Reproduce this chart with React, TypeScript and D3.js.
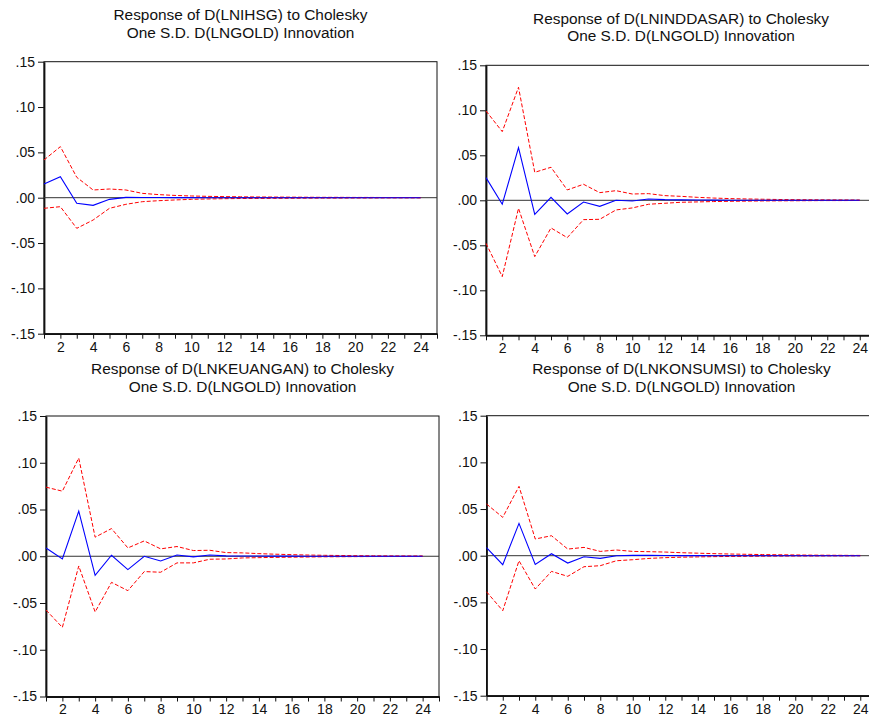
import React, { useRef, useEffect } from 'react';
import * as d3 from 'd3';

// periods 1..24 of the impulse response
const periods = d3.range(1, 25);
const yTicks = [-0.15, -0.1, -0.05, 0, 0.05, 0.1, 0.15];
const xTicks = d3.range(1, 26);
const xLabels = [2, 4, 6, 8, 10, 12, 14, 16, 18, 20, 22, 24];

const ihsgResp = [0.0151, 0.0232, -0.0062, -0.0084, -0.0018, 0.0004, 0.0003, 0.0002, 0.0001, 0.0001, 0, 0, 0, 0, 0, 0, 0, 0, 0, 0, 0, 0, 0, 0];
const ihsgUpper = [0.0416, 0.0563, 0.0225, 0.0085, 0.0096, 0.0085, 0.0048, 0.0034, 0.0025, 0.0019, 0.0015, 0.0012, 0.001, 0.0008, 0.0007, 0.0006, 0.0005, 0.0004, 0.0004, 0.0003, 0.0003, 0.0002, 0.0002, 0.0002];
const ihsgLower = [-0.0117, -0.0099, -0.0338, -0.0246, -0.0117, -0.0073, -0.0044, -0.0033, -0.0025, -0.0018, -0.0014, -0.0011, -0.0009, -0.0008, -0.0007, -0.0006, -0.0005, -0.0004, -0.0004, -0.0003, -0.0003, -0.0002, -0.0002, -0.0002];

const inddasarResp = [0.0252, -0.0044, 0.0585, -0.0156, 0.0033, -0.0152, -0.0019, -0.0067, 0.0, -0.0007, 0.0015, 0.0007, 0.0005, 0.0003, 0.0002, 0.0001, 0.0001, 0, 0, 0, 0, 0, 0, 0];
const inddasarUpper = [0.0993, 0.0763, 0.1256, 0.0311, 0.0367, 0.0115, 0.0178, 0.0085, 0.0107, 0.007, 0.0074, 0.0052, 0.0044, 0.0033, 0.0025, 0.0019, 0.0015, 0.0012, 0.0009, 0.0007, 0.0006, 0.0005, 0.0004, 0.0003];
const inddasarLower = [-0.0478, -0.0848, -0.0089, -0.0626, -0.0307, -0.0415, -0.0215, -0.0211, -0.0107, -0.0085, -0.0044, -0.0033, -0.0022, -0.0018, -0.0014, -0.0011, -0.0009, -0.0007, -0.0006, -0.0005, -0.0004, -0.0003, -0.0003, -0.0002];

const keuanganResp = [0.0089, -0.0029, 0.0482, -0.0204, 0.0011, -0.0143, 0.0, -0.005, 0.0014, -0.0007, 0.0014, 0.0004, 0.0003, 0.0002, 0.0001, 0.0001, 0, 0, 0, 0, 0, 0, 0, 0];
const keuanganUpper = [0.0739, 0.0696, 0.105, 0.0204, 0.0296, 0.0089, 0.0164, 0.0079, 0.0104, 0.0061, 0.0064, 0.0039, 0.0036, 0.0028, 0.0022, 0.0017, 0.0013, 0.001, 0.0008, 0.0006, 0.0005, 0.0004, 0.0003, 0.0003];
const keuanganLower = [-0.0575, -0.0761, -0.0104, -0.0596, -0.0279, -0.0368, -0.0164, -0.0171, -0.0071, -0.0071, -0.0032, -0.0029, -0.0018, -0.0015, -0.0012, -0.001, -0.0008, -0.0006, -0.0005, -0.0004, -0.0003, -0.0003, -0.0002, -0.0002];

const konsumsiResp = [0.0086, -0.0096, 0.0346, -0.0093, 0.0021, -0.0079, -0.0011, -0.0029, 0.0, 0.0004, 0.0004, 0.0002, 0.0001, 0.0001, 0, 0, 0, 0, 0, 0, 0, 0, 0, 0];
const konsumsiUpper = [0.0554, 0.0411, 0.0743, 0.0179, 0.0214, 0.0071, 0.0089, 0.0046, 0.0061, 0.0046, 0.0043, 0.0039, 0.0032, 0.0027, 0.0022, 0.0018, 0.0015, 0.0012, 0.001, 0.0008, 0.0006, 0.0005, 0.0004, 0.0003];
const konsumsiLower = [-0.0386, -0.0589, -0.0054, -0.0357, -0.0168, -0.0221, -0.0118, -0.0107, -0.0054, -0.0043, -0.0029, -0.0021, -0.0016, -0.0013, -0.001, -0.0008, -0.0007, -0.0005, -0.0004, -0.0003, -0.0003, -0.0002, -0.0002, -0.0001];

const titles = [
  ['Response of D(LNIHSG) to Cholesky', 'One S.D. D(LNGOLD) Innovation'],
  ['Response of D(LNINDDASAR) to Cholesky', 'One S.D. D(LNGOLD) Innovation'],
  ['Response of D(LNKEUANGAN) to Cholesky', 'One S.D. D(LNGOLD) Innovation'],
  ['Response of D(LNKONSUMSI) to Cholesky', 'One S.D. D(LNGOLD) Innovation'],
];

const series = [
  [ihsgResp, ihsgUpper, ihsgLower],
  [inddasarResp, inddasarUpper, inddasarLower],
  [keuanganResp, keuanganUpper, keuanganLower],
  [konsumsiResp, konsumsiUpper, konsumsiLower],
];

// panel boxes (plot area) and title baselines
const panels = [
  { left: 44, top: 61.7, width: 393, height: 272, t1: 20, t2: 38 },
  { left: 486, top: 65.3, width: 390, height: 270, t1: 24, t2: 41 },
  { left: 46, top: 416, width: 393, height: 280.5, t1: 374, t2: 392 },
  { left: 486.5, top: 415.7, width: 390, height: 280, t1: 374, t2: 392 },
];

const fmtY = (v: number) =>
  (v < -1e-9 ? '-' : '') + Math.abs(v).toFixed(2).replace(/^0/, '');

const App = () => {
  const ref = useRef<SVGSVGElement>(null);

  useEffect(() => {
    const svg = d3.select(ref.current);
    svg.selectAll('*').remove();
    const font = '"Liberation Sans", Arial, sans-serif';

    panels.forEach((p, i) => {
      const x = d3.scaleLinear().domain([1, 25]).range([p.left, p.left + p.width]);
      const y = d3.scaleLinear().domain([-0.15, 0.15]).range([p.top + p.height, p.top]);
      const g = svg.append('g');

      // titles
      const cx = p.left + p.width / 2;
      [p.t1, p.t2].forEach((ty, k) => {
        g.append('text')
          .attr('x', cx)
          .attr('y', ty)
          .attr('text-anchor', 'middle')
          .attr('font-family', font)
          .attr('font-size', 15.4)
          .attr('fill', '#111')
          .text(titles[i][k]);
      });

      // frame
      g.append('rect')
        .attr('x', p.left)
        .attr('y', p.top)
        .attr('width', p.width)
        .attr('height', p.height)
        .attr('fill', 'none')
        .attr('stroke', '#111')
        .attr('stroke-width', 1);

      // y axis
      const yAxis = g
        .append('g')
        .attr('transform', `translate(${p.left},0)`)
        .call(d3.axisLeft(y).tickValues(yTicks).tickSize(6).tickSizeOuter(0).tickFormat((d) => fmtY(+d)));
      yAxis.select('.domain').attr('stroke', '#111').attr('stroke-width', 1.8);
      yAxis.selectAll('.tick line').attr('stroke', '#111');
      yAxis
        .selectAll('.tick text')
        .attr('font-family', font)
        .attr('font-size', 14)
        .attr('fill', '#111')
        .attr('x', -9);

      // x axis
      const xAxis = g
        .append('g')
        .attr('transform', `translate(0,${p.top + p.height})`)
        .call(
          d3
            .axisBottom(x)
            .tickValues(xTicks)
            .tickSize(5)
            .tickSizeOuter(0)
            .tickFormat((d) => (xLabels.includes(+d) ? String(d) : ''))
        );
      xAxis.select('.domain').attr('stroke', '#111').attr('stroke-width', 1.8);
      xAxis.selectAll('.tick line').attr('stroke', '#111');
      xAxis
        .selectAll('.tick text')
        .attr('font-family', font)
        .attr('font-size', 14)
        .attr('fill', '#111')
        .attr('y', 8);

      // zero line
      g.append('line')
        .attr('x1', p.left)
        .attr('x2', p.left + p.width)
        .attr('y1', y(0))
        .attr('y2', y(0))
        .attr('stroke', '#333')
        .attr('stroke-width', 1);

      const line = d3
        .line<number>()
        .x((_, j) => x(periods[j]))
        .y((d) => y(d));

      const [resp, upper, lower] = series[i];
      [upper, lower].forEach((band) => {
        g.append('path')
          .attr('d', line(band))
          .attr('fill', 'none')
          .attr('stroke', '#ff0000')
          .attr('stroke-width', 1)
          .attr('stroke-dasharray', '4,2');
      });
      g.append('path')
        .attr('d', line(resp))
        .attr('fill', 'none')
        .attr('stroke', '#0000ff')
        .attr('stroke-width', 1.1);
    });
  }, []);

  return (
    <svg
      ref={ref}
      width={869}
      height={714}
      style={{ position: 'absolute', left: 0, top: 0, background: '#fff' }}
    />
  );
};

export default App;
